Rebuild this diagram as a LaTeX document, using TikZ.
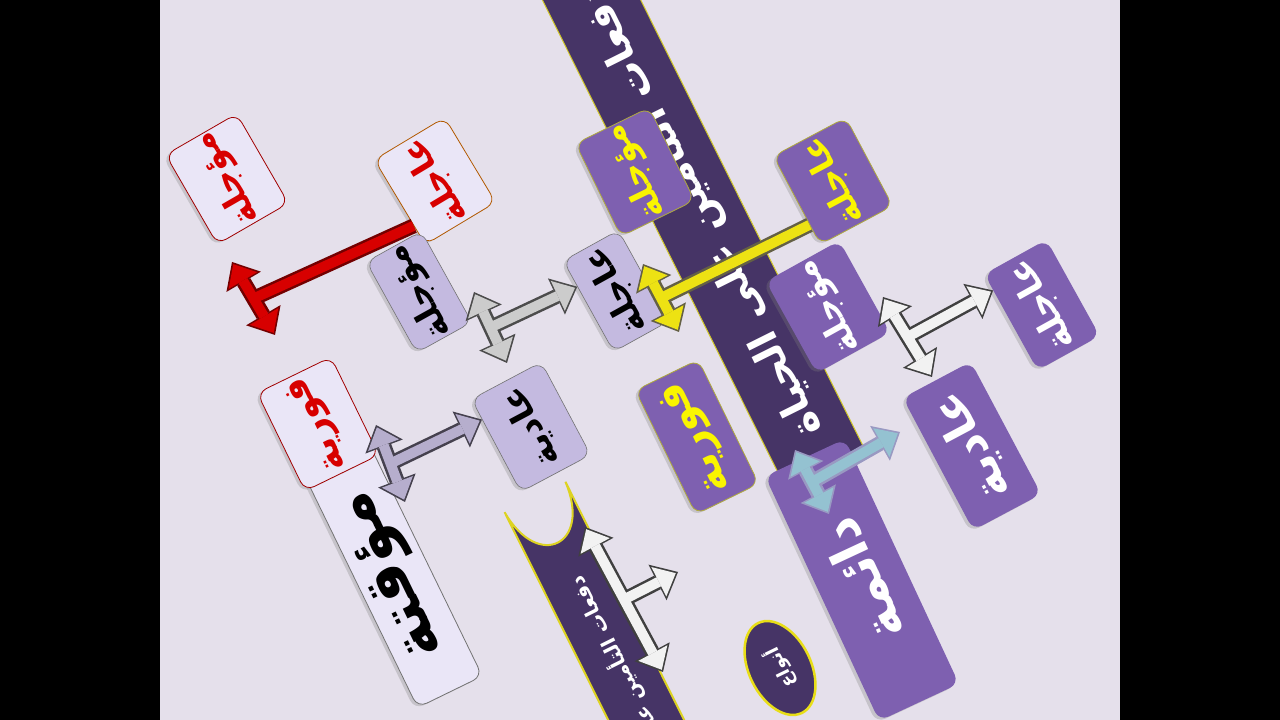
\documentclass[tikz,border=0pt]{standalone}
\usepackage{fontspec}
\newfontfamily\arabicfont[Script=Arabic]{DejaVu Sans}
\TeXXeTstate=1
\usepackage{tikz}
\usetikzlibrary{arrows.meta}
\usetikzlibrary{shapes.geometric}
\usetikzlibrary{shadows}
\usetikzlibrary{calc}

\definecolor{bgpaper}{RGB}{229,224,235}
\definecolor{deepviolet}{RGB}{70,52,102}
\definecolor{midviolet}{RGB}{126,96,176}
\definecolor{lilac}{RGB}{196,186,224}
\definecolor{paleviolet}{RGB}{234,230,247}
\definecolor{tagred}{RGB}{215,0,0}
\definecolor{tagyellow}{RGB}{250,245,0}

\newcommand{\artxt}[1]{{\arabicfont\bfseries\beginR #1\endR}}
\newcommand{\teeshape}[7]{%
  \draw[teeedge=#2,<->] (#3) -- (#4);
  \draw[teeedge=#2,#7 edge] (#5) -- (#6);
  \draw[teefill=#1,<->,shorten <=2.5pt,shorten >=2.5pt] (#3) -- (#4);
  \draw[teefill=#1,#7 fill] (#5) -- (#6);
}

\tikzset{
  card/.style={rectangle, rounded corners=10pt, minimum width=100pt, minimum height=82pt,
    inner sep=1pt, font=\fontsize{34}{36}\selectfont,
    drop shadow={opacity=0.3, shadow xshift=-3pt, shadow yshift=-2pt}},
  palecard/.style={card, fill=paleviolet, draw=tagred!75!black, line width=0.8pt, text=tagred},
  lilaccard/.style={card, fill=lilac, draw=black!55, line width=0.6pt, text=black, minimum width=104pt, minimum height=63pt},
  violetcard/.style={card, fill=midviolet, draw=none, text=white},
  goldcard/.style={violetcard, draw=yellow!65!black, line width=0.8pt, text=tagyellow},
  titlebar/.style={rectangle, fill=deepviolet, draw=yellow!80!black, line width=1pt,
    minimum width=600pt, minimum height=88pt, rotate=116.5},
  titletext/.style={rotate=116.5, text=white, font=\fontsize{40}{42}\selectfont},
  teeedge/.style={line width=15pt, draw=#1, >={Triangle[length=23pt,width=40pt,line width=0pt]}},
  teefill/.style={line width=10pt, draw=#1, >={Triangle[length=19pt,width=33pt,line width=0pt]}},
  tipped edge/.style={->},
  tipped fill/.style={->, shorten >=2.5pt},
  plain edge/.style={-},
  plain fill/.style={-},
}

\begin{document}
\begin{tikzpicture}[x=1pt,y=1pt]
\useasboundingbox (0,0) rectangle (1280,720);
\fill[black] (0,0) rectangle (1280,720);
\fill[bgpaper] (160,0) rectangle (1120,720);
\clip (160,0) rectangle (1120,720);

% long title bar
\node[titlebar] (title) at (692,518.5) {};
\node[titletext, anchor=west] (titlewords) at ($(title.west)!35pt!(title.east)$) {\artxt{دفعات التأمين على الحياة}};

% left branch
\node[palecard, minimum width=260pt, minimum height=72pt, rotate=116, draw=black!55, text=black,
  font=\fontsize{62}{66}\selectfont] (temporary) at (393,145) {\artxt{مؤقتة}};
\node[palecard, minimum width=109pt, rotate=116, font=\fontsize{36}{38}\selectfont] (instantA) at (318,296) {\artxt{فورية}};
\node[palecard, minimum width=99pt, rotate=120] (deferredA) at (227,541) {\artxt{مؤجلة}};
\node[palecard, minimum width=99pt, draw=orange!70!black, rotate=121] (urgentA) at (435,539) {\artxt{عاجلة}};
\coordinate (r1) at (232,458);
\coordinate (r2) at (275,385);
\coordinate (rc) at (253.5,421.5);
\teeshape{tagred}{red!45!black}{r1}{r2}{rc}{$(urgentA.north west)!0.45!(urgentA.north)$}{plain}
\node[lilaccard, rotate=119] (deferredB) at (419,428) {\artxt{مؤجلة}};

% banner
\begin{scope}[shift={(535,223)}, rotate=-63.5]
  \filldraw[fill=deepviolet, draw=yellow!85!black, line width=2pt]
    (0,-34) .. controls (68,-30) and (68,30) .. (0,34) -- (340,34) -- (340,-34) -- cycle;
  \node[anchor=east, rotate=116.5, text=white, font=\fontsize{20}{22}\selectfont] (bannerwords) at (87,0) {\artxt{دفعات التأمين على الحياة}};
\end{scope}

\node[lilaccard, rotate=119] (urgentB) at (616,429) {\artxt{عاجلة}};
\node[lilaccard, minimum width=105pt, minimum height=79pt, rotate=118] (ordinaryA) at (531,293) {\artxt{عادية}};
\coordinate (g1) at (474,428);
\coordinate (g2) at (507,357);
\coordinate (gc) at (490.5,392.5);
\teeshape{black!20}{black!70}{g1}{g2}{gc}{$(urgentB.north)!0.43!(urgentB.north east)$}{tipped}
\coordinate (l1) at (376,295);
\coordinate (l2) at (405,218);
\coordinate (lc) at (390.5,256.5);
\teeshape{lilac!80!gray}{black!65!lilac}{l1}{l2}{lc}{$(ordinaryA.north)!0.56!(ordinaryA.north east)$}{tipped}
\coordinate (v1) at (585,193);
\coordinate (v2) at (663,48);
\coordinate (vc) at (624,120.5);
\coordinate (vt) at (678,148);
\teeshape{white!95!black}{black!75}{v1}{v2}{vc}{vt}{tipped}

% right branch
\node[goldcard, rotate=116] (deferredC) at (635,548) {\artxt{مؤجلة}};
\node[goldcard, rotate=118] (urgentC) at (833,539) {\artxt{عاجلة}};
\coordinate (y1) at (643,456);
\coordinate (y2) at (679,388);
\coordinate (yc) at (661,422);
\teeshape{yellow!92!black}{black!70!yellow}{y1}{y2}{yc}{$(urgentC.north)!0.55!(urgentC.north west)$}{plain}
\node[violetcard, minimum width=105pt, minimum height=84pt, rotate=119] (deferredD) at (828,413) {\artxt{مؤجلة}};
\node[goldcard, minimum width=138pt, minimum height=70pt, rotate=116, font=\fontsize{42}{44}\selectfont] (instantB) at (697,283) {\artxt{فورية}};
\node[violetcard, minimum width=270pt, minimum height=88pt, rotate=115, font=\fontsize{52}{54}\selectfont] (permanent) at (862,140) {\artxt{دائمة}};
\node[violetcard, minimum width=110pt, minimum height=71pt, rotate=119, font=\fontsize{36}{38}\selectfont] (urgentD) at (1042,415) {\artxt{عاجلة}};
\node[violetcard, minimum width=150pt, minimum height=77pt, rotate=118, font=\fontsize{46}{48}\selectfont] (ordinaryB) at (972,274) {\artxt{عادية}};
\coordinate (b1) at (795,270);
\coordinate (b2) at (829,206);
\coordinate (bc) at (812,238);
\coordinate (bt) at (900,288);
\teeshape{blue!25!cyan!40!gray!60}{black!60!blue!40}{b1}{b2}{bc}{bt}{tipped}
\coordinate (w1) at (883,423);
\coordinate (w2) at (932,343);
\coordinate (wc) at (907.5,383);
\teeshape{white!95!black}{black!75}{w1}{w2}{wc}{$(urgentD.north)!0.66!(urgentD.north east)$}{tipped}

\node[ellipse, rotate=116, minimum width=100pt, minimum height=62pt, fill=deepviolet,
  draw=yellow!90!black, line width=2.5pt, text=white, font=\fontsize{18}{20}\selectfont] (kinds) at (780,52) {\artxt{أنواع}};
\end{tikzpicture}
\end{document}
